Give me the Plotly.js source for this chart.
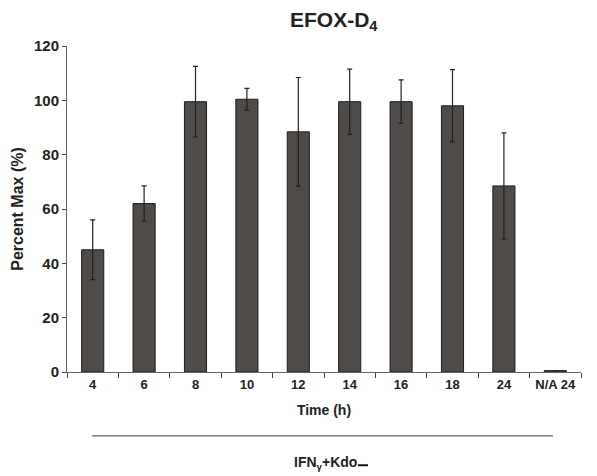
<!DOCTYPE html>
<html>
<head>
<meta charset="utf-8">
<script src="https://cdn.plot.ly/plotly-3.0.1.min.js"></script>
<style>html,body{margin:0;padding:0;background:#fff;}#chart{width:597px;height:476px;}</style>
</head>
<body>
<div id="chart"></div>
<script>
const categories = ["4", "6", "8", "10", "12", "14", "16", "18", "24", "N/A 24"];
const percentMax = [45, 62, 99.5, 100.4, 88.4, 99.5, 99.5, 98, 68.5, 0.5];
const errorSD = [11, 6.5, 13, 4, 20, 12, 8, 13.3, 19.5, 0];
const yTicks = [0, 20, 40, 60, 80, 100, 120];

const font = "Liberation Sans, Arial, sans-serif";

const trace = {
  type: "bar",
  x: categories,
  y: percentMax,
  width: 0.43,
  marker: {color: "#4f4b48", line: {color: "#1e1e1e", width: 1}},
  error_y: {type: "data", array: errorSD, visible: true, color: "#222", thickness: 1.2, width: 2.5},
  hoverinfo: "x+y"
};

const layout = {
  width: 597, height: 476,
  margin: {l: 67, r: 16, t: 46, b: 104},
  paper_bgcolor: "#fff", plot_bgcolor: "#fff",
  showlegend: false,
  font: {family: font, color: "#222"},
  xaxis: {
    type: "category",
    showline: true, linecolor: "#666", linewidth: 1,
    ticks: "outside", tickson: "boundaries", ticklen: 5, tickcolor: "#444",
    tickfont: {family: font, size: 13, color: "#222", weight: "bold"},
    showgrid: false, zeroline: false,
    title: {text: "<b>Time (h)</b>", font: {family: font, size: 14, color: "#222"}, standoff: 14}
  },
  yaxis: {
    range: [0, 120], tickvals: yTicks,
    showline: true, linecolor: "#666", linewidth: 1,
    ticks: "outside", ticklen: 4, tickcolor: "#444",
    tickfont: {family: font, size: 15, color: "#222", weight: "bold"},
    showgrid: false, zeroline: false,
    title: {text: "<b>Percent Max (%)</b>", font: {family: font, size: 16, color: "#222"}, standoff: 6}
  },
  annotations: [
    {text: "<b>EFOX-D<sub>4</sub></b>", xref: "paper", yref: "paper", x: 0.519, y: 1.077,
     showarrow: false, font: {family: font, size: 21, color: "#222"}, xanchor: "center", yanchor: "middle"},
    {text: "<b>IFN<sub>γ</sub>+Kdo</b>", xref: "paper", yref: "paper", x: 0.502, y: -0.279,
     showarrow: false, font: {family: font, size: 14, color: "#222"}, xanchor: "center", yanchor: "middle"}
  ],
  shapes: [
    {type: "line", xref: "paper", yref: "paper", x0: 0.0486, x1: 0.9455, y0: -0.196, y1: -0.196,
     line: {color: "#666", width: 1.2}},
    {type: "rect", xref: "paper", yref: "paper", x0: 0.566, x1: 0.5856, y0: -0.289, y1: -0.283,
     fillcolor: "#111", line: {width: 0}}
  ]
};

Plotly.newPlot("chart", [trace], layout, {displayModeBar: false, staticPlot: true});
</script>
</body>
</html>
